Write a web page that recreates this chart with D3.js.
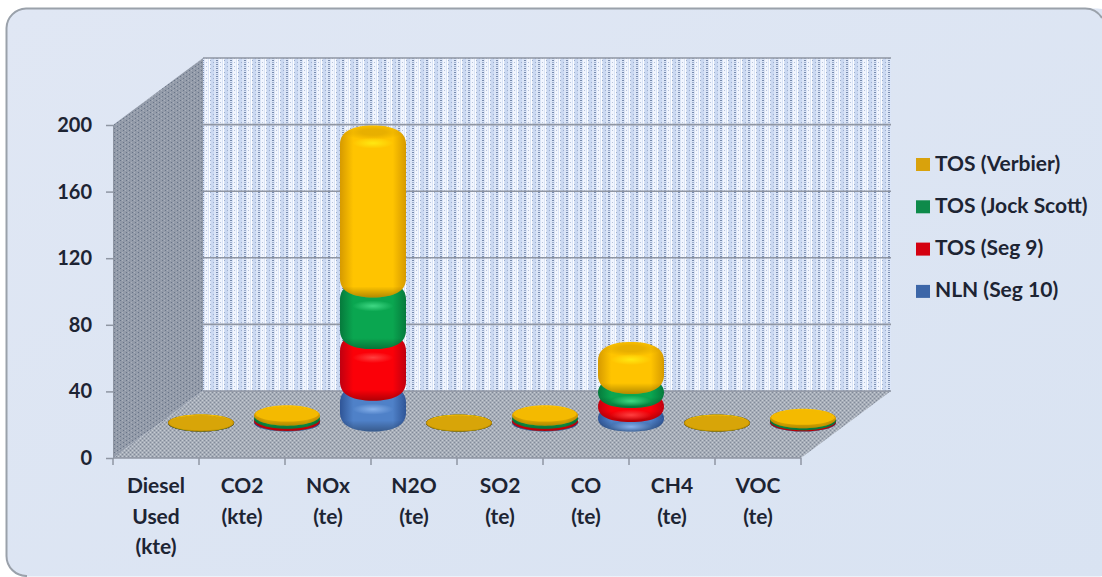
<!DOCTYPE html>
<html>
<head>
<meta charset="utf-8">
<script src="https://cdn.jsdelivr.net/npm/d3@7/dist/d3.min.js"></script>
<style>
  html, body { margin: 0; padding: 0; background: #fff; overflow: hidden; }
  svg { display: block; }
  text { font-family: Lato, "Open Sans", sans-serif; font-weight: 700; fill: #1d2433; }
</style>
</head>
<body>
<svg id="chart" width="1102" height="577"></svg>
<script>
// Emissions per category, one array per contributor (stacked bottom to top)
const categories = [
  ["Diesel", "Used", "(kte)"], ["CO2", "(kte)"], ["NOx", "(te)"], ["N2O", "(te)"],
  ["SO2", "(te)"], ["CO", "(te)"], ["CH4", "(te)"], ["VOC", "(te)"]
];
const nlnSeg10 =   [0.02, 0.3, 18.5, 0.01, 0.3, 5.7, 0.01, 0.1];
const tosSeg9 =    [0.02, 1.4, 31, 0.01, 1.4, 8.4, 0.01, 0.7];
const tosJock =    [0.02, 1.8, 31, 0.01, 1.8, 8.4, 0.01, 1.2];
const tosVerbier = [0.1, 2.0, 93, 0.02, 2.0, 21, 0.02, 1.5];
const yTicks = [0, 40, 80, 120, 160, 200];

const seriesNames = ["NLN (Seg 10)", "TOS (Seg 9)", "TOS (Jock Scott)", "TOS (Verbier)"];
const seriesValues = [nlnSeg10, tosSeg9, tosJock, tosVerbier];
const palette = [
  { dark: "#2f5597", mid: "#4f81c8", light: "#86b0ea", key: "#3c66a8" },
  { dark: "#c00010", mid: "#fb0008", light: "#ff4040", key: "#d40010" },
  { dark: "#067a3c", mid: "#0aa650", light: "#3fd884", key: "#0e8a4a" },
  { dark: "#d69a00", mid: "#ffc400", light: "#ffe812", key: "#d9a20c" }
];

const svg = d3.select("#chart");
const defs = svg.append("defs");

// Panel behind the chart; its frame runs along the top and left edges
const panelGrad = defs.append("linearGradient").attr("id", "panel")
  .attr("x1", 0).attr("y1", 0).attr("x2", 1).attr("y2", 1);
panelGrad.append("stop").attr("offset", 0).attr("stop-color", "#e0e7f4");
panelGrad.append("stop").attr("offset", 1).attr("stop-color", "#d9e3f2");
svg.append("rect").attr("x", 6.5).attr("y", 8.5).attr("width", 1110).attr("height", 568).attr("rx", 19)
  .attr("fill", "url(#panel)");
svg.append("path").attr("d", "M27,576 A20,20 0 0 1 6.5,556 V28 A20,20 0 0 1 26,8.5 H1084 A20,20 0 0 1 1102,18")
  .attr("fill", "none").attr("stroke", "#9aa1aa").attr("stroke-width", 2);

// Dotted wall and floor fills
function dotted(id, w, h, base, dots) {
  const p = defs.append("pattern").attr("id", id).attr("patternUnits", "userSpaceOnUse")
    .attr("width", w).attr("height", h);
  p.append("rect").attr("width", w).attr("height", h).attr("fill", base);
  dots.forEach(d => p.append("rect").attr("x", d[0]).attr("y", d[1]).attr("width", d[2]).attr("height", d[3])
    .attr("fill", d[4]).attr("opacity", d[5]));
}
dotted("wallBack", 14, 4, "#dbe5f7", [
  [1, 0, 3, 4, "#c6d5f0", 0.8], [9, 0, 3, 4, "#f4f8ff", 0.9],
  [0, 0, 1, 1, "#7f93b8", 0.7], [3, 2, 1, 1, "#8ea0c2", 0.7], [6, 0, 2, 1, "#64799f", 0.85], [6, 2, 2, 1, "#7f93b8", 0.7],
  [10, 2, 1, 1, "#8ea0c2", 0.6], [13, 0, 1, 4, "#ffffff", 0.9]
]);
dotted("wallSide", 6, 4, "#939ba9", [
  [0, 0, 1, 1, "#5e6a80", 0.8], [3, 2, 1, 1, "#5e6a80", 0.8], [2, 0, 1, 1, "#b4bbc6", 0.7], [5, 2, 1, 1, "#b4bbc6", 0.7]
]);
dotted("floor", 4, 4, "#a6adb8", [
  [0, 0, 1, 1, "#788191", 0.8], [2, 2, 1, 1, "#788191", 0.8], [2, 0, 1, 1, "#cdd2d9", 0.8], [0, 2, 1, 1, "#cdd2d9", 0.8]
]);

// Plot geometry: front plane scales plus the receding depth offset
const depth = { dx: 90, dy: -67 };
const x = d3.scaleBand().domain(d3.range(categories.length)).range([113, 801]);
const y = d3.scaleLinear().domain([0, 200]).range([458, 125]);
const yTop = y(200), yBase = y(0), xL = x.range()[0], xR = x.range()[1];

const poly = pts => pts.map(p => p.join(",")).join(" ");
svg.append("polygon").attr("fill", "url(#wallBack)")
  .attr("points", poly([[xL + depth.dx, yTop + depth.dy], [xR + depth.dx, yTop + depth.dy], [xR + depth.dx, yBase + depth.dy], [xL + depth.dx, yBase + depth.dy]]));
svg.append("polygon").attr("fill", "url(#wallSide)")
  .attr("points", poly([[xL, yTop], [xL + depth.dx, yTop + depth.dy], [xL + depth.dx, yBase + depth.dy], [xL, yBase]]));
svg.append("polygon").attr("fill", "url(#floor)")
  .attr("points", poly([[xL, yBase], [xL + depth.dx, yBase + depth.dy], [xR + depth.dx, yBase + depth.dy], [xR, yBase]]));

// Gridlines on the back wall
svg.append("g").selectAll("line").data(yTicks).join("line")
  .attr("x1", xL + depth.dx).attr("x2", xR + depth.dx)
  .attr("y1", d => y(d) + depth.dy).attr("y2", d => y(d) + depth.dy)
  .attr("stroke", "#8f96a3").attr("stroke-width", 1.6);

// Value axis
const yAxis = svg.append("g").attr("transform", `translate(${xL},0)`)
  .call(d3.axisLeft(y).tickValues(yTicks).tickSize(7).tickPadding(14));
yAxis.select(".domain").attr("stroke", "#8f96a3");
yAxis.selectAll(".tick line").attr("stroke", "#8f96a3").attr("stroke-width", 1.5);
yAxis.selectAll(".tick text").style("font-size", "20px").attr("fill", "#1d2433").style("font-family", "Lato");

// Category axis with stacked label lines
const xAxis = svg.append("g").attr("transform", `translate(0,${yBase})`);
xAxis.append("line").attr("x1", xL).attr("x2", xR).attr("stroke", "#8f96a3").attr("stroke-width", 1.5);
xAxis.selectAll("line.t").data(d3.range(categories.length + 1)).join("line").attr("class", "t")
  .attr("x1", i => xL + i * x.bandwidth()).attr("x2", i => xL + i * x.bandwidth())
  .attr("y1", 0).attr("y2", 7).attr("stroke", "#8f96a3").attr("stroke-width", 1.5);
const catLabel = svg.append("g").selectAll("text").data(categories).join("text")
  .attr("text-anchor", "middle").style("font-size", "21px");
catLabel.selectAll("tspan").data((d, i) => d.map(s => ({ s, i }))).join("tspan")
  .attr("x", d => x(d.i) + x.bandwidth() / 2)
  .attr("y", (d, j) => 493 + j * 30.5)
  .text(d => d.s);

// Bar shading
palette.forEach((c, i) => {
  const side = defs.append("linearGradient").attr("id", "side" + i);
  [[0, c.dark], [0.2, c.mid], [0.8, c.mid], [1, c.dark]].forEach(s =>
    side.append("stop").attr("offset", s[0]).attr("stop-color", s[1]));
  const glow = defs.append("radialGradient").attr("id", "glow" + i);
  glow.append("stop").attr("offset", 0).attr("stop-color", c.light).attr("stop-opacity", 1);
  glow.append("stop").attr("offset", 1).attr("stop-color", c.light).attr("stop-opacity", 0);
});
const capShade = defs.append("radialGradient").attr("id", "capShade");
capShade.append("stop").attr("offset", 0.4).attr("stop-color", "#5a3000").attr("stop-opacity", 0.14);
capShade.append("stop").attr("offset", 1).attr("stop-color", "#5a3000").attr("stop-opacity", 0);

// Stacked rounded cylinders, standing halfway back on the floor
const rx = 33, capH = 8.5;
const stack = d3.stack().keys(d3.range(seriesValues.length)).value((d, k) => seriesValues[k][d]);
const layers = stack(d3.range(categories.length));
const base = depth.dy / 2 - 1.5;

function barPath(cx, yBottom, yUpper) {
  const T = yUpper - capH, B = yBottom + capH, c = Math.min(capH * 2.2, (B - T) / 2);
  const squat = c < capH * 1.4;
  const kx = squat ? 0.55 : 0.6, ky = squat ? 0.45 : 0.3;
  return `M${cx - rx},${T + c}C${cx - rx},${T + c * ky} ${cx - rx * kx},${T} ${cx},${T}` +
         `C${cx + rx * kx},${T} ${cx + rx},${T + c * ky} ${cx + rx},${T + c}` +
         `L${cx + rx},${B - c}C${cx + rx},${B - c * ky} ${cx + rx * kx},${B} ${cx},${B}` +
         `C${cx - rx * kx},${B} ${cx - rx},${B - c * ky} ${cx - rx},${B - c}Z`;
}

const marks = svg.append("g");
categories.forEach((_, i) => {
  const cx = x(i) + x.bandwidth() / 2 + depth.dx / 2;
  layers.forEach((layer, k) => {
    const y0 = y(layer[i][0]) + base, y1 = y(layer[i][1]) + base;
    const top = k === seriesValues.length - 1;
    const g = marks.append("g");
    const d = barPath(cx, y0, y1);
    const B = y0 + capH;
    const under = defs.append("linearGradient").attr("id", `under${i}_${k}`)
      .attr("gradientUnits", "userSpaceOnUse").attr("x1", 0).attr("x2", 0).attr("y1", B - 11).attr("y2", B);
    under.append("stop").attr("offset", 0).attr("stop-color", "#000").attr("stop-opacity", 0);
    under.append("stop").attr("offset", 1).attr("stop-color", "#000").attr("stop-opacity", 0.3);
    g.append("path").attr("d", d).attr("fill", `url(#side${k})`);
    g.append("path").attr("d", d).attr("fill", `url(#under${i}_${k})`);
    if (y0 - y1 > 8) {
      if (top) {
        g.append("ellipse").attr("cx", cx).attr("cy", y1 - 2).attr("rx", rx * 0.92).attr("ry", capH * 0.9)
          .attr("fill", "url(#capShade)");
      }
      const glowY = top ? y1 + 9 : Math.min(y1 + 17, y1 + capH + (y0 - y1) / 2);
      g.append("ellipse").attr("cx", cx).attr("cy", glowY).attr("rx", rx * 0.62).attr("ry", 5.5)
        .attr("fill", `url(#glow${k})`);
    } else if (top) {
      g.append("ellipse").attr("cx", cx).attr("cy", y1).attr("rx", rx * 0.96).attr("ry", capH * 0.9)
        .attr("fill", y0 - y1 > 1.5 ? "#f4ba00" : "#d8a508");
    }
  });
});

// Legend, top entry last in the stack
const legend = svg.append("g").selectAll("g").data(d3.range(seriesNames.length).reverse()).join("g")
  .attr("transform", (k, i) => `translate(916,${164 + i * 42.3})`);
legend.append("rect").attr("x", 0).attr("y", -6).attr("width", 14).attr("height", 13)
  .attr("fill", k => palette[k].key);
legend.append("text").attr("x", 19).attr("y", 6.5).style("font-size", "21px").text(k => seriesNames[k]);
</script>
</body>
</html>
